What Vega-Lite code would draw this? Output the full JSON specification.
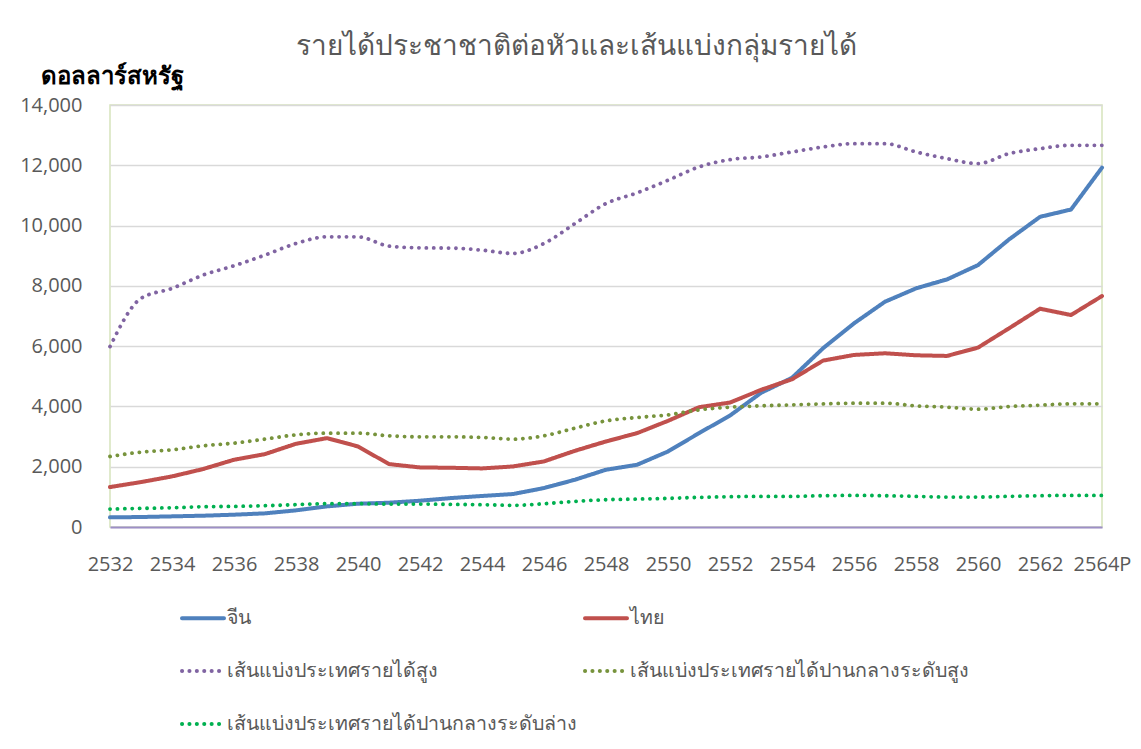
{
  "$schema": "https://vega.github.io/schema/vega-lite/v6.json",
  "width": 992,
  "height": 422,
  "autosize": {"type": "none"},
  "padding": {"left": 110, "top": 105, "right": 39, "bottom": 222},
  "background": "white",
  "title": {
    "text": "รายได้ประชาชาติต่อหัวและเส้นแบ่งกลุ่มรายได้",
    "fontSize": 28,
    "font": "Open Sans",
    "fontWeight": "normal",
    "color": "#595959",
    "anchor": "middle",
    "dx": -30,
    "offset": 3
  },
  "data": {
    "values": [
      {"year": "2532", "จีน": 320, "ไทย": 1325, "เส้นแบ่งประเทศรายได้สูง": 5984, "เส้นแบ่งประเทศรายได้ปานกลางระดับสูง": 2340, "เส้นแบ่งประเทศรายได้ปานกลางระดับล่าง": 596},
      {"year": "2533", "จีน": 331, "ไทย": 1490, "เส้นแบ่งประเทศรายได้สูง": 7585, "เส้นแบ่งประเทศรายได้ปานกลางระดับสูง": 2484, "เส้นแบ่งประเทศรายได้ปานกลางระดับล่าง": 618},
      {"year": "2534", "จีน": 353, "ไทย": 1678, "เส้นแบ่งประเทศรายได้สูง": 7916, "เส้นแบ่งประเทศรายได้ปานกลางระดับสูง": 2561, "เส้นแบ่งประเทศรายได้ปานกลางระดับล่าง": 640},
      {"year": "2535", "จีน": 375, "ไทย": 1921, "เส้นแบ่งประเทศรายได้สูง": 8357, "เส้นแบ่งประเทศรายได้ปานกลางระดับสูง": 2694, "เส้นแบ่งประเทศรายได้ปานกลางระดับล่าง": 673},
      {"year": "2536", "จีน": 408, "ไทย": 2230, "เส้นแบ่งประเทศรายได้สูง": 8666, "เส้นแบ่งประเทศรายได้ปานกลางระดับสูง": 2782, "เส้นแบ่งประเทศรายได้ปานกลางระดับล่าง": 684},
      {"year": "2537", "จีน": 453, "ไทย": 2418, "เส้นแบ่งประเทศรายได้สูง": 9020, "เส้นแบ่งประเทศรายได้ปานกลางระดับสูง": 2915, "เส้นแบ่งประเทศรายได้ปานกลางระดับล่าง": 706},
      {"year": "2538", "จีน": 552, "ไทย": 2760, "เส้นแบ่งประเทศรายได้สูง": 9406, "เส้นแบ่งประเทศรายได้ปานกลางระดับสูง": 3058, "เส้นแบ่งประเทศรายได้ปานกลางระดับล่าง": 740},
      {"year": "2539", "จีน": 684, "ไทย": 2948, "เส้นแบ่งประเทศรายได้สูง": 9627, "เส้นแบ่งประเทศรายได้ปานกลางระดับสูง": 3113, "เส้นแบ่งประเทศรายได้ปานกลางระดับล่าง": 773},
      {"year": "2540", "จีน": 773, "ไทย": 2672, "เส้นแบ่งประเทศรายได้สูง": 9627, "เส้นแบ่งประเทศรายได้ปานกลางระดับสูง": 3113, "เส้นแบ่งประเทศรายได้ปานกลางระดับล่าง": 773},
      {"year": "2541", "จีน": 806, "ไทย": 2087, "เส้นแบ่งประเทศรายได้สูง": 9318, "เส้นแบ่งประเทศรายได้ปานกลางระดับสูง": 3025, "เส้นแบ่งประเทศรายได้ปานกลางระดับล่าง": 762},
      {"year": "2542", "จีน": 872, "ไทย": 1976, "เส้นแบ่งประเทศรายได้สูง": 9262, "เส้นแบ่งประเทศรายได้ปานกลางระดับสูง": 2992, "เส้นแบ่งประเทศรายได้ปานกลางระดับล่าง": 762},
      {"year": "2543", "จีน": 960, "ไทย": 1965, "เส้นแบ่งประเทศรายได้สูง": 9252, "เส้นแบ่งประเทศรายได้ปานกลางระดับสูง": 2992, "เส้นแบ่งประเทศรายได้ปานกลางระดับล่าง": 751},
      {"year": "2544", "จีน": 1030, "ไทย": 1943, "เส้นแบ่งประเทศรายได้สูง": 9185, "เส้นแบ่งประเทศรายได้ปานกลางระดับสูง": 2970, "เส้นแบ่งประเทศรายได้ปานกลางระดับล่าง": 740},
      {"year": "2545", "จีน": 1093, "ไทย": 2009, "เส้นแบ่งประเทศรายได้สูง": 9075, "เส้นแบ่งประเทศรายได้ปานกลางระดับสูง": 2915, "เส้นแบ่งประเทศรายได้ปานกลางระดับล่าง": 718},
      {"year": "2546", "จีน": 1292, "ไทย": 2175, "เส้นแบ่งประเทศรายได้สูง": 9406, "เส้นแบ่งประเทศรายได้ปานกลางระดับสูง": 3025, "เส้นแบ่งประเทศรายได้ปานกลางระดับล่าง": 773},
      {"year": "2547", "จีน": 1568, "ไทย": 2528, "เส้นแบ่งประเทศรายได้สูง": 10068, "เส้นแบ่งประเทศรายได้ปานกลางระดับสูง": 3279, "เส้นแบ่งประเทศรายได้ปานกลางระดับล่าง": 850},
      {"year": "2548", "จีน": 1899, "ไทย": 2837, "เส้นแบ่งประเทศรายได้สูง": 10731, "เส้นแบ่งประเทศรายได้ปานกลางระดับสูง": 3522, "เส้นแบ่งประเทศรายได้ปานกลางระดับล่าง": 905},
      {"year": "2549", "จีน": 2064, "ไทย": 3113, "เส้นแบ่งประเทศรายได้สูง": 11084, "เส้นแบ่งประเทศรายได้ปานกลางระดับสูง": 3632, "เส้นแบ่งประเทศรายได้ปานกลางระดับล่าง": 927},
      {"year": "2550", "จีน": 2506, "ไทย": 3522, "เส้นแบ่งประเทศรายได้สูง": 11504, "เส้นแบ่งประเทศรายได้ปานกลางระดับสูง": 3720, "เส้นแบ่งประเทศรายได้ปานกลางระดับล่าง": 949},
      {"year": "2551", "จีน": 3113, "ไทย": 3974, "เส้นแบ่งประเทศรายได้สูง": 11945, "เส้นแบ่งประเทศรายได้ปานกลางระดับสูง": 3886, "เส้นแบ่งประเทศรายได้ปานกลางระดับล่าง": 983},
      {"year": "2552", "จีน": 3698, "ไทย": 4129, "เส้นแบ่งประเทศรายได้สูง": 12188, "เส้นแบ่งประเทศรายได้ปานกลางระดับสูง": 3974, "เส้นแบ่งประเทศรายได้ปานกลางระดับล่าง": 1005},
      {"year": "2553", "จีน": 4450, "ไทย": 4549, "เส้นแบ่งประเทศรายได้สูง": 12276, "เส้นแบ่งประเทศรายได้ปานกลางระดับสูง": 4019, "เส้นแบ่งประเทศรายได้ปานกลางระดับล่าง": 1016},
      {"year": "2554", "จีน": 4950, "ไทย": 4900, "เส้นแบ่งประเทศรายได้สูง": 12442, "เส้นแบ่งประเทศรายได้ปานกลางระดับสูง": 4052, "เส้นแบ่งประเทศรายได้ปานกลางระดับล่าง": 1016},
      {"year": "2555", "จีน": 5928, "ไทย": 5520, "เส้นแบ่งประเทศรายได้สูง": 12608, "เส้นแบ่งประเทศรายได้ปานกลางระดับสูง": 4085, "เส้นแบ่งประเทศรายได้ปานกลางระดับล่าง": 1038},
      {"year": "2556", "จีน": 6756, "ไทย": 5708, "เส้นแบ่งประเทศรายได้สูง": 12718, "เส้นแบ่งประเทศรายได้ปานกลางระดับสูง": 4107, "เส้นแบ่งประเทศรายได้ปานกลางระดับล่าง": 1049},
      {"year": "2557", "จีน": 7474, "ไทย": 5763, "เส้นแบ่งประเทศรายได้สูง": 12718, "เส้นแบ่งประเทศรายได้ปานกลางระดับสูง": 4107, "เส้นแบ่งประเทศรายได้ปานกลางระดับล่าง": 1038},
      {"year": "2558", "จีน": 7916, "ไทย": 5697, "เส้นแบ่งประเทศรายได้สูง": 12442, "เส้นแบ่งประเทศรายได้ปานกลางระดับสูง": 4019, "เส้นแบ่งประเทศรายได้ปานกลางระดับล่าง": 1016},
      {"year": "2559", "จีน": 8214, "ไทย": 5675, "เส้นแบ่งประเทศรายได้สูง": 12221, "เส้นแบ่งประเทศรายได้ปานกลางระดับสูง": 3974, "เส้นแบ่งประเทศรายได้ปานกลางระดับล่าง": 994},
      {"year": "2560", "จีน": 8689, "ไทย": 5951, "เส้นแบ่งประเทศรายได้สูง": 12056, "เส้นแบ่งประเทศรายได้ปานกลางระดับสูง": 3908, "เส้นแบ่งประเทศรายได้ปานกลางระดับล่าง": 994},
      {"year": "2561", "จีน": 9539, "ไทย": 6591, "เส้นแบ่งประเทศรายได้สูง": 12387, "เส้นแบ่งประเทศรายได้ปานกลางระดับสูง": 3996, "เส้นแบ่งประเทศรายได้ปานกลางระดับล่าง": 1016},
      {"year": "2562", "จีน": 10289, "ไทย": 7242, "เส้นแบ่งประเทศรายได้สูง": 12552, "เส้นแบ่งประเทศรายได้ปานกลางระดับสูง": 4041, "เส้นแบ่งประเทศรายได้ปานกลางระดับล่าง": 1038},
      {"year": "2563", "จีน": 10532, "ไทย": 7032, "เส้นแบ่งประเทศรายได้สูง": 12663, "เส้นแบ่งประเทศรายได้ปานกลางระดับสูง": 4085, "เส้นแบ่งประเทศรายได้ปานกลางระดับล่าง": 1049},
      {"year": "2564P", "จีน": 11923, "ไทย": 7662, "เส้นแบ่งประเทศรายได้สูง": 12663, "เส้นแบ่งประเทศรายได้ปานกลางระดับสูง": 4085, "เส้นแบ่งประเทศรายได้ปานกลางระดับล่าง": 1049}
    ]
  },
  "transform": [
    {"fold": ["จีน", "ไทย", "เส้นแบ่งประเทศรายได้สูง", "เส้นแบ่งประเทศรายได้ปานกลางระดับสูง", "เส้นแบ่งประเทศรายได้ปานกลางระดับล่าง"], "as": ["series", "value"]}
  ],
  "encoding": {
    "x": {
      "field": "year",
      "type": "ordinal",
      "scale": {"type": "point", "padding": 0},
      "axis": {
        "values": ["2532", "2534", "2536", "2538", "2540", "2542", "2544", "2546", "2548", "2550", "2552", "2554", "2556", "2558", "2560", "2562", "2564P"],
        "title": null,
        "labelAngle": 0,
        "labelFont": "Open Sans",
        "labelFontSize": 20,
        "labelColor": "#595959",
        "labelPadding": 27,
        "ticks": false,
        "grid": false,
        "domainColor": "#9d8fc6",
        "domainWidth": 2
      }
    },
    "y": {
      "field": "value",
      "type": "quantitative",
      "scale": {"domain": [0, 14000], "nice": false},
      "axis": {
        "values": [0, 2000, 4000, 6000, 8000, 10000, 12000, 14000],
        "format": ",d",
        "title": "ดอลลาร์สหรัฐ",
        "titleAngle": 0,
        "titleAlign": "left",
        "titleBaseline": "alphabetic",
        "titleX": -70,
        "titleY": -22,
        "titleFont": "Open Sans",
        "titleFontSize": 24,
        "titleFontWeight": "bold",
        "titleColor": "#000000",
        "labelFont": "Open Sans",
        "labelFontSize": 20,
        "labelColor": "#595959",
        "labelPadding": 28,
        "ticks": false,
        "domain": false,
        "grid": true,
        "gridColor": "#d9d9d9",
        "gridWidth": 1.5
      }
    },
    "color": {
      "field": "series",
      "type": "nominal",
      "scale": {
        "domain": ["จีน", "เส้นแบ่งประเทศรายได้สูง", "เส้นแบ่งประเทศรายได้ปานกลางระดับล่าง", "ไทย", "เส้นแบ่งประเทศรายได้ปานกลางระดับสูง"],
        "range": ["#4f81bd", "#8064a2", "#00b050", "#c0504d", "#77933c"]
      },
      "legend": {
        "title": null,
        "orient": "none",
        "legendX": 70,
        "legendY": 490,
        "columns": 2,
        "columnPadding": 0,
        "rowPadding": 20,
        "symbolType": "stroke",
        "symbolSize": 1764,
        "symbolStrokeWidth": 4,
        "labelFont": "Open Sans",
        "labelFontSize": 19.6,
        "labelColor": "#595959",
        "labelOffset": 1,
        "labelLimit": 600,
        "encode": {"symbols": {"update": {"strokeCap": {"value": "round"}}}}
      }
    },
    "strokeDash": {
      "field": "series",
      "type": "nominal",
      "scale": {
        "domain": ["จีน", "เส้นแบ่งประเทศรายได้สูง", "เส้นแบ่งประเทศรายได้ปานกลางระดับล่าง", "ไทย", "เส้นแบ่งประเทศรายได้ปานกลางระดับสูง"],
        "range": [[1, 0], [0.1, 7.3], [0.1, 7.3], [1, 0], [0.1, 7.3]]
      },
      "legend": {
        "title": null,
        "orient": "none",
        "legendX": 70,
        "legendY": 490,
        "columns": 2,
        "columnPadding": 0,
        "rowPadding": 20,
        "symbolType": "stroke",
        "symbolSize": 1764,
        "symbolStrokeWidth": 4,
        "labelFont": "Open Sans",
        "labelFontSize": 19.6,
        "labelColor": "#595959",
        "labelOffset": 1,
        "labelLimit": 600,
        "encode": {"symbols": {"update": {"strokeCap": {"value": "round"}}}}
      }
    }
  },
  "layer": [
    {
      "transform": [{"filter": {"field": "series", "oneOf": ["จีน", "ไทย"]}}],
      "mark": {"type": "line", "strokeWidth": 4, "strokeCap": "round", "strokeJoin": "round"}
    },
    {
      "transform": [{"filter": {"not": {"field": "series", "oneOf": ["จีน", "ไทย"]}}}],
      "mark": {"type": "line", "strokeWidth": 3.8, "strokeCap": "round", "interpolate": "monotone"}
    }
  ],
  "config": {
    "view": {"stroke": "#d6e3bc", "strokeWidth": 1.5},
    "font": "Open Sans"
  }
}
